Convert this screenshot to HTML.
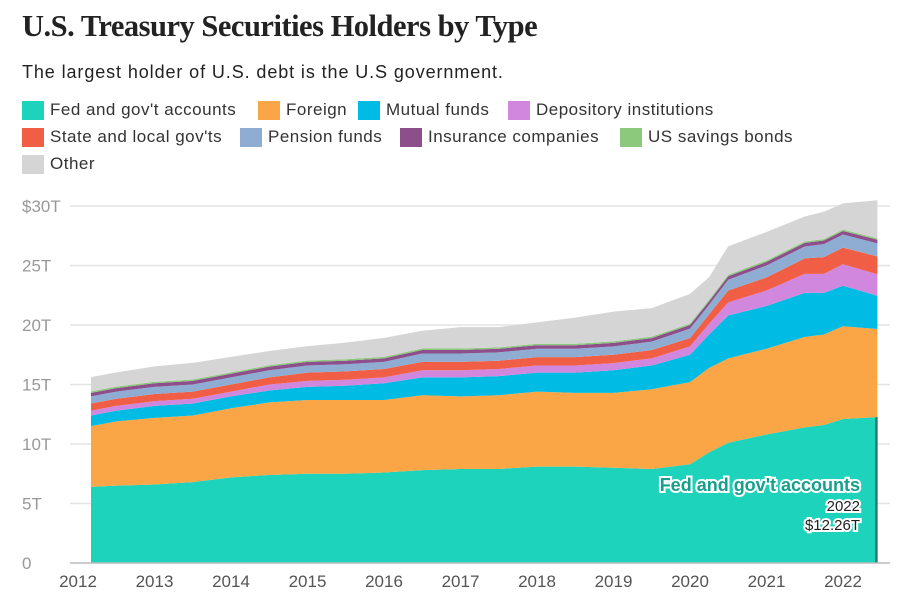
<!DOCTYPE html>
<html><head><meta charset="utf-8"><style>
body{margin:0;background:#fff;font-family:"Liberation Sans",sans-serif;}
#wrap{position:relative;width:902px;height:603px;overflow:hidden}
h1{position:absolute;left:22px;top:9px;margin:0;font-family:"Liberation Serif",serif;font-size:30.5px;font-weight:bold;color:#222;letter-spacing:-0.5px}
.sub{position:absolute;left:22px;top:62px;font-size:18px;letter-spacing:0.9px;color:#222}
.leg{position:absolute;font-size:17px;letter-spacing:0.5px;color:#333;display:flex;align-items:center}
.leg i{display:inline-block;width:22px;height:19px;margin-right:6px}
</style></head><body>
<div id="wrap">
<h1>U.S. Treasury Securities Holders by Type</h1>
<div class="sub">The largest holder of U.S. debt is the U.S government.</div>
<div id="legend"></div>
<svg id="chart" width="902" height="603" style="position:absolute;left:0;top:0"></svg>
</div>
<script>
const years=[2012.17,2012.5,2013,2013.5,2014,2014.5,2015,2015.5,2016,2016.5,2017,2017.5,2018,2018.5,2019,2019.5,2020,2020.25,2020.5,2021,2021.5,2021.75,2022,2022.45];
const fed=[6.4,6.5,6.6,6.8,7.2,7.4,7.5,7.5,7.6,7.8,7.9,7.9,8.1,8.1,8.0,7.9,8.3,9.3,10.1,10.8,11.4,11.6,12.1,12.26];
const foreign=[5.1,5.4,5.6,5.6,5.8,6.1,6.2,6.2,6.1,6.3,6.1,6.2,6.3,6.2,6.3,6.7,6.9,7.1,7.1,7.2,7.6,7.6,7.8,7.4];
const mutual=[0.9,0.9,1.0,1.0,1.0,1.0,1.1,1.2,1.4,1.5,1.6,1.6,1.6,1.7,1.9,2.0,2.3,2.8,3.6,3.6,3.7,3.5,3.4,2.8];
const depository=[0.4,0.4,0.4,0.4,0.4,0.5,0.5,0.5,0.5,0.6,0.6,0.6,0.6,0.6,0.6,0.6,0.7,0.9,1.1,1.3,1.6,1.6,1.8,1.8];
const stateLocal=[0.6,0.6,0.6,0.6,0.6,0.6,0.7,0.7,0.7,0.7,0.7,0.7,0.7,0.7,0.7,0.7,0.7,0.8,1.0,1.1,1.3,1.4,1.4,1.5];
const pension=[0.6,0.6,0.6,0.6,0.6,0.6,0.6,0.6,0.6,0.7,0.7,0.7,0.7,0.7,0.7,0.7,0.8,0.8,0.9,1.0,1.0,1.1,1.1,1.1];
const insurance=[0.3,0.3,0.3,0.3,0.3,0.3,0.3,0.3,0.3,0.3,0.3,0.3,0.3,0.3,0.3,0.3,0.3,0.3,0.3,0.3,0.3,0.3,0.3,0.3];
const savings=[0.12,0.12,0.12,0.12,0.12,0.12,0.12,0.12,0.12,0.12,0.12,0.12,0.12,0.12,0.12,0.12,0.12,0.12,0.12,0.12,0.12,0.12,0.12,0.12];
const other=[1.2,1.2,1.3,1.4,1.3,1.2,1.2,1.4,1.6,1.5,1.8,1.7,1.8,2.2,2.5,2.4,2.5,1.9,2.4,2.4,2.1,2.3,2.2,3.2];
const seriesNames=["Fed and gov't accounts","Foreign","Mutual funds","Depository institutions","State and local gov'ts","Pension funds","Insurance companies","US savings bonds","Other"];
const yTicks=[0,5,10,15,20,25,30];
const yTickLabels=["0","5T","10T","15T","20T","25T","$30T"];
const xTicks=[2012,2013,2014,2015,2016,2017,2018,2019,2020,2021,2022];
const colors=["#1dd3bb","#faa646","#00bbe3","#d187dd","#f05f45","#8fadd3","#8c4f8c","#8dc97c","#d5d5d5"];
const series=[fed,foreign,mutual,depository,stateLocal,pension,insurance,savings,other];
const slugs=["fed","foreign","mutual-funds","depository","state-local","pension","insurance","savings-bonds","other"];
const X=y=>78+(y-2012)*76.5, Y=v=>563-v*11.9;
const NS="http://www.w3.org/2000/svg", svg=document.getElementById('chart');
function mk(t,a){const e=document.createElementNS(NS,t);for(const k in a)e.setAttribute(k,a[k]);svg.appendChild(e);return e;}
yTicks.forEach((t,i)=>{
  if(t>0){const l=mk('line',{x1:70,x2:890,y1:Y(t),y2:Y(t),stroke:'#e3e3e3','stroke-width':1.5});
  
  }
  const tx=mk('text',{x:22,y:Y(t)+6,'font-size':17,fill:'#999','font-family':'Liberation Sans'});
  tx.textContent=yTickLabels[i];
  
  
});
let base=years.map(()=>0);
series.forEach((s,si)=>{
  const top=base.map((b,i)=>b+s[i]);
  let d='M'+years.map((y,i)=>X(y)+','+Y(top[i])).join('L');
  for(let i=years.length-1;i>=0;i--)d+='L'+X(years[i])+','+Y(base[i]);
  const p=mk('path',{d:d+'Z',fill:colors[si]});
  
  
  base=top;
});
const last=years.length-1;
const hl=mk('line',{x1:X(years[last])-1,x2:X(years[last])-1,y1:Y(fed[last]),y2:563,stroke:'#2a7a6e','stroke-width':2.5});


const ax=mk('line',{x1:70,x2:890,y1:563,y2:563,stroke:'#bbb','stroke-width':1.5});


xTicks.forEach(t=>{
  const tx=mk('text',{x:X(t),y:587,'font-size':17,fill:'#555','text-anchor':'middle','font-family':'Liberation Sans'});
  tx.textContent=t;
  
  
});
const tipX=860;
[[seriesNames[0],491,'bold',18,'#14a08d'],[String(2022),511,'normal',15,'#222'],['$'+fed[last].toFixed(2)+'T',530,'normal',15,'#222']].forEach((r,i)=>{
  const tx=mk('text',{x:tipX,y:r[1],'font-size':r[3],'font-weight':r[2],fill:r[4],'text-anchor':'end',stroke:'#fff','stroke-width':4,'paint-order':'stroke','font-family':'Liberation Sans'});
  tx.textContent=r[0];
  
  
});
const pos=[[22,100],[258,100],[358,100],[508,100],[22,127],[240,127],[400,127],[620,127],[22,154]];
const lg=document.getElementById('legend');
seriesNames.forEach((n,i)=>{
  const d=document.createElement('div');d.className='leg';
  d.style.left=pos[i][0]+'px';d.style.top=pos[i][1]+'px';
  d.innerHTML='<i style="background:'+colors[i]+'"></i>'+n;
  
  
  lg.appendChild(d);
});
</script>
</body></html>
